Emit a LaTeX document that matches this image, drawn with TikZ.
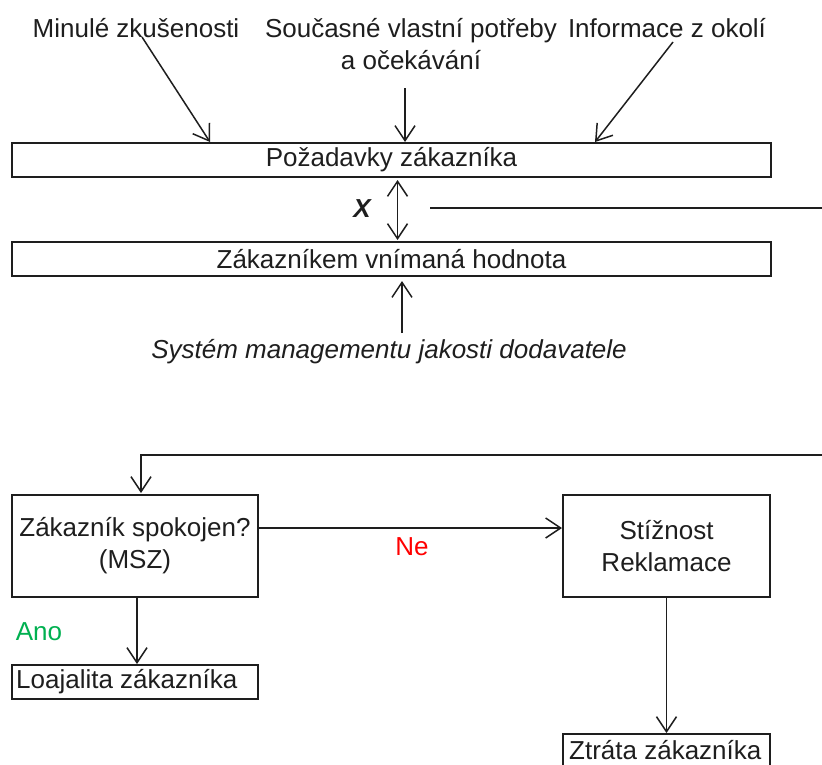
\documentclass[tikz,border=0pt]{standalone}
\usepackage{fontspec}
\setmainfont{Liberation Sans}
\usetikzlibrary{arrows.meta,calc}
\definecolor{anog}{RGB}{0,176,80}
\definecolor{ink}{RGB}{30,30,30}
\begin{document}
\begin{tikzpicture}[x=1pt,y=-1pt,
  every node/.style={font=\fontsize{26}{32}\selectfont, inner sep=0pt, text=ink},
  box/.style={draw=ink, line width=2pt, rectangle},
  lbl/.style={align=center},
  arr/.style={draw=ink, line width=1.5pt, -{Straight Barb[length=15pt,width=20pt]}},
  darr/.style={draw=ink, line width=1.5pt, {Straight Barb[length=15pt,width=20pt]}-{Straight Barb[length=15pt,width=20pt]}},
  ln/.style={draw=ink, line width=1.5pt}]
\path[use as bounding box] (0,0) rectangle (822,764);
\clip (0,0) rectangle (822,764);
% boxes
\node[box, minimum width=759pt, minimum height=34pt] (req) at (391.5,160) {Požadavky zákazníka};
\node[box, minimum width=759pt, minimum height=34pt] (val) at (391.5,259) {Zákazníkem vnímaná hodnota};
\node[box, minimum width=246pt, minimum height=102pt, align=center] (sat) at (135,546) {Zákazník spokojen?\\(MSZ)};
\node[box, minimum width=207pt, minimum height=102pt, align=center] (comp) at (666.5,546) {Stížnost\\Reklamace};
\node[box, minimum width=246pt, minimum height=34pt] (loy) at (135,682) {};
\node[anchor=west] (loyt) at (16,682) {Loajalita zákazníka};
\node[box, minimum width=207pt, minimum height=40pt, anchor=north] (loss) at (666.5,733) {};
\node[anchor=west] (losst) at (569,750) {Ztráta zákazníka};
% labels
\node (past) at (136,28) {Minulé zkušenosti};
\node[lbl] (now) at (411,44) {Současné vlastní potřeby\\a očekávání};
\node (info) at (667,28) {Informace z okolí};
\node (sys) at (389,352) {\itshape Systém managementu jakosti dodavatele};
\node (x) at (362,209) {\bfseries\itshape X};
\node[text=red] (ne) at (412,547) {Ne};
\node[text=anog] (ano) at (39,632) {Ano};
% free ends
\coordinate (a1) at (142,37);
\coordinate (a2) at (405,88);
\coordinate (a3) at (673,42);
\coordinate (a4) at (402,333);
\coordinate (l1) at (430,208);
\coordinate (r1) at (822,208);
\coordinate (r2) at (822,455);
\coordinate (c2) at (141,455);
% connectors
\draw[arr] (a1) -- ([xshift=-181.5pt]req.north);
\draw[arr] (a2) -- ([xshift=13.5pt]req.north);
\draw[arr] (a3) -- ([xshift=203.5pt]req.north);
\draw[darr] ([xshift=6pt,yshift=-2pt]req.south) -- ([xshift=6pt,yshift=1pt]val.north);
\draw[arr] (a4) -- ([xshift=10.5pt,yshift=-4pt]val.south);
\draw[ln] (l1) -- (r1);
\draw[arr] (r2) -- (c2) -- ([xshift=6pt,yshift=1pt]sat.north);
\draw[arr] ([yshift=18pt]sat.east) -- ([yshift=18pt]comp.west);
\draw[arr] ([xshift=2pt]sat.south) -- ([xshift=2pt]loy.north);
\draw[arr] (comp.south) -- (loss.north);
\end{tikzpicture}
\end{document}
